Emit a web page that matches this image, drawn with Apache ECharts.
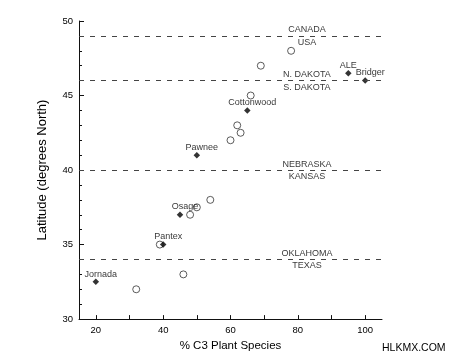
<!DOCTYPE html>
<html>
<head>
<meta charset="utf-8">
<script src="https://cdn.jsdelivr.net/npm/echarts@6/dist/echarts.min.js"></script>
<style>html,body{margin:0;padding:0;background:#fff}#c{width:450px;height:357px}</style>
</head>
<body>
<div id="c"></div>
<script>
// Open-circle sites (unlabelled)
var openX = [78, 69, 66, 62, 63, 60, 54, 50, 48, 39, 46, 32];
var openY = [48, 47, 45, 43, 42.5, 42, 38, 37.5, 37, 35, 33, 32];
// Labelled sites (filled diamonds)
var siteNames = ['ALE', 'Bridger', 'Cottonwood', 'Pawnee', 'Osage', 'Pantex', 'Jornada'];
var siteX = [95, 100, 65, 50, 45, 40, 20];
var siteY = [46.5, 46, 44, 41, 37, 35, 32.5];
// State / country boundary lines
var borderLat = [49, 46, 40, 34];
var borderAbove = ['CANADA', 'N. DAKOTA', 'NEBRASKA', 'OKLAHOMA'];
var borderBelow = ['USA', 'S. DAKOTA', 'KANSAS', 'TEXAS'];
// Axis ticks
var xTickValues = [20, 30, 40, 50, 60, 70, 80, 90, 100];
var xLabelValues = [20, 40, 60, 80, 100];

var FONT = 'Liberation Sans, Arial, sans-serif';
var TXT = '#000';
var LABEL_X = 82.7;

var chart = echarts.init(document.getElementById('c'), null, {renderer: 'canvas'});

var openData = openX.map(function (x, i) { return [x, openY[i]]; });
var siteData = siteX.map(function (x, i) {
  return {
    value: [x, siteY[i]],
    label: {
      show: true, formatter: siteNames[i], position: 'top', distance: 0,
      offset: [siteNames[i] === 'ALE' ? 0 : 5, 0],
      fontSize: 9, color: TXT, fontFamily: FONT
    }
  };
});
var regionData = [];
borderLat.forEach(function (lat, i) {
  regionData.push({value: [LABEL_X, lat], label: {show: true, formatter: borderAbove[i], position: 'top', distance: 1.5, fontSize: 9, color: TXT, fontFamily: FONT}});
  regionData.push({value: [LABEL_X, lat], label: {show: true, formatter: borderBelow[i], position: 'bottom', distance: 2, fontSize: 9, color: TXT, fontFamily: FONT}});
});

chart.setOption({
  animation: false,
  backgroundColor: '#fff',
  grid: {left: 79, right: 68, top: 21, bottom: 34, containLabel: false},
  xAxis: {
    type: 'value', min: 15, max: 105,
    name: '% C3 Plant Species', nameLocation: 'middle', nameGap: 15,
    nameTextStyle: {fontSize: 11.5, color: TXT, fontFamily: FONT},
    axisLine: {show: true, lineStyle: {color: '#111', width: 1}},
    axisTick: {show: true, inside: true, length: 4, customValues: xTickValues, lineStyle: {color: '#111'}},
    axisLabel: {customValues: xLabelValues, margin: 6, fontSize: 9.5, color: TXT, fontFamily: FONT},
    splitLine: {show: false}
  },
  yAxis: {
    type: 'value', min: 30, max: 50, interval: 5,
    name: 'Latitude (degrees North)', nameLocation: 'middle', nameGap: 30,
    nameTextStyle: {fontSize: 13, color: TXT, fontFamily: FONT},
    axisLine: {show: true, lineStyle: {color: '#111', width: 1}},
    axisTick: {show: true, inside: true, length: 5, lineStyle: {color: '#111'}},
    minorTick: {show: true, splitNumber: 5, length: 3, lineStyle: {color: '#111'}},
    axisLabel: {margin: 6, fontSize: 9.5, color: TXT, fontFamily: FONT},
    splitLine: {show: false}
  },
  series: [
    {
      type: 'scatter', name: 'borders', data: regionData, symbolSize: 0, silent: true,
      markLine: {
        silent: true, symbol: 'none', label: {show: false},
        lineStyle: {type: [5, 6], color: '#444', width: 1},
        data: borderLat.map(function (v) { return {yAxis: v}; })
      }
    },
    {
      type: 'scatter', name: 'open', data: openData, symbol: 'circle', symbolSize: 7,
      itemStyle: {color: 'rgba(255,255,255,0)', borderColor: '#333', borderWidth: 1}
    },
    {
      type: 'scatter', name: 'sites', data: siteData, symbol: 'diamond', symbolSize: 6.5,
      itemStyle: {color: '#000'}
    }
  ],
  graphic: [{
    type: 'text', left: 382, top: 343,
    style: {text: 'HLKMX.COM', fontSize: 10.5, fill: '#000', fontFamily: FONT}
  }]
});
</script>
</body>
</html>
